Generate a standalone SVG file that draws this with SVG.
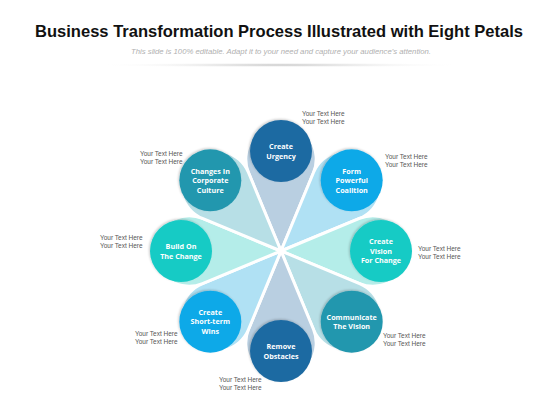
<svg xmlns="http://www.w3.org/2000/svg" width="560" height="420" viewBox="0 0 560 420">
<style>
.title{font-family:"Liberation Sans",Arial,sans-serif;font-weight:bold;font-size:16.5px;fill:#111;}
.sub{font-family:"Liberation Sans",Arial,sans-serif;font-style:italic;font-size:7px;fill:#b0b0b0;}
.lbl{font-family:"Liberation Sans",Arial,sans-serif;font-size:6.5px;fill:#555;}
.nt{font-family:"Open Sans","Liberation Sans",sans-serif;font-weight:bold;font-size:7.2px;fill:#fff;text-anchor:middle;}
.petal{stroke:#fff;stroke-width:3;stroke-linejoin:round;}
.node{filter:url(#sh);}
</style>
<defs>
<radialGradient id="lineg" cx="0.5" cy="0.5" r="0.5">
<stop offset="0" stop-color="#bbb" stop-opacity="0.9"/>
<stop offset="1" stop-color="#fff" stop-opacity="0"/>
</radialGradient>
<filter id="sh" x="-30%" y="-30%" width="160%" height="160%">
<feDropShadow dx="-1" dy="-1" stdDeviation="1.2" flood-color="#000" flood-opacity="0.2"/>
</filter>
<path id="pt" d="M0,0 L-32.53,-78.53 A35.2,35.2 0 1 1 32.53,-78.53 Z"/>
</defs>
<rect width="560" height="420" fill="#fff"/>
<text class="title" x="279" y="36.5" text-anchor="middle" textLength="488" lengthAdjust="spacingAndGlyphs">Business Transformation Process Illustrated with Eight Petals</text>
<text class="sub" x="281" y="54" text-anchor="middle" textLength="300" lengthAdjust="spacingAndGlyphs">This slide is 100% editable. Adapt it to your need and capture your audience's attention.</text>
<ellipse cx="280" cy="65" rx="185" ry="2.5" fill="url(#lineg)"/>

<g id="connectors" transform="translate(281,251)">
<use href="#pt" class="petal" fill="#b9cfe1" transform="rotate(0)"/>
<use href="#pt" class="petal" fill="#b0e1f4" transform="rotate(45)"/>
<use href="#pt" class="petal" fill="#b4ede9" transform="rotate(90)"/>
<use href="#pt" class="petal" fill="#b7dfe6" transform="rotate(135)"/>
<use href="#pt" class="petal" fill="#b9cfe1" transform="rotate(180)"/>
<use href="#pt" class="petal" fill="#b0e1f4" transform="rotate(225)"/>
<use href="#pt" class="petal" fill="#b4ede9" transform="rotate(270)"/>
<use href="#pt" class="petal" fill="#b7dfe6" transform="rotate(315)"/>
</g>

<g id="n1">
<circle class="node" cx="281" cy="151" r="31" fill="#1f6ba2"/>
<text class="nt" x="281" y="149">Create</text>
<text class="nt" x="281" y="158.5">Urgency</text>
<text class="lbl" x="302" y="115.5">Your Text Here</text>
<text class="lbl" x="302" y="123.5">Your Text Here</text>
</g>
<g id="n2">
<circle class="node" cx="351.7" cy="180.3" r="31" fill="#10a9e8"/>
<text class="nt" x="351.7" y="173.5">Form</text>
<text class="nt" x="351.7" y="183">Powerful</text>
<text class="nt" x="351.7" y="192.5">Coalition</text>
<text class="lbl" x="385" y="158.5">Your Text Here</text>
<text class="lbl" x="385" y="166.5">Your Text Here</text>
</g>
<g id="n3">
<circle class="node" cx="381" cy="251" r="31" fill="#15cbc5"/>
<text class="nt" x="381" y="244.2">Create</text>
<text class="nt" x="381" y="253.7">Vision</text>
<text class="nt" x="381" y="263.2">For Change</text>
<text class="lbl" x="418" y="250.5">Your Text Here</text>
<text class="lbl" x="418" y="258.5">Your Text Here</text>
</g>
<g id="n4">
<circle class="node" cx="351.7" cy="321.7" r="31" fill="#2497ae"/>
<text class="nt" x="351.7" y="319.7">Communicate</text>
<text class="nt" x="351.7" y="329.2">The Vision</text>
<text class="lbl" x="383" y="337.5">Your Text Here</text>
<text class="lbl" x="383" y="345.5">Your Text Here</text>
</g>
<g id="n5">
<circle class="node" cx="281" cy="351" r="31" fill="#1f6ba2"/>
<text class="nt" x="281" y="349">Remove</text>
<text class="nt" x="281" y="358.5">Obstacles</text>
<text class="lbl" x="219" y="381.5">Your Text Here</text>
<text class="lbl" x="219" y="389.5">Your Text Here</text>
</g>
<g id="n6">
<circle class="node" cx="210.3" cy="321.7" r="31" fill="#10a9e8"/>
<text class="nt" x="210.3" y="314.9">Create</text>
<text class="nt" x="210.3" y="324.4">Short-term</text>
<text class="nt" x="210.3" y="333.9">Wins</text>
<text class="lbl" x="135" y="335.5">Your Text Here</text>
<text class="lbl" x="135" y="343.5">Your Text Here</text>
</g>
<g id="n7">
<circle class="node" cx="181" cy="251" r="31" fill="#15cbc5"/>
<text class="nt" x="181" y="249">Build On</text>
<text class="nt" x="181" y="258.5">The Change</text>
<text class="lbl" x="100" y="239.5">Your Text Here</text>
<text class="lbl" x="100" y="247.5">Your Text Here</text>
</g>
<g id="n8">
<circle class="node" cx="210.3" cy="180.3" r="31" fill="#2497ae"/>
<text class="nt" x="210.3" y="173.5">Changes In</text>
<text class="nt" x="210.3" y="183">Corporate</text>
<text class="nt" x="210.3" y="192.5">Culture</text>
<text class="lbl" x="140" y="155.5">Your Text Here</text>
<text class="lbl" x="140" y="163.5">Your Text Here</text>
</g>
</svg>
